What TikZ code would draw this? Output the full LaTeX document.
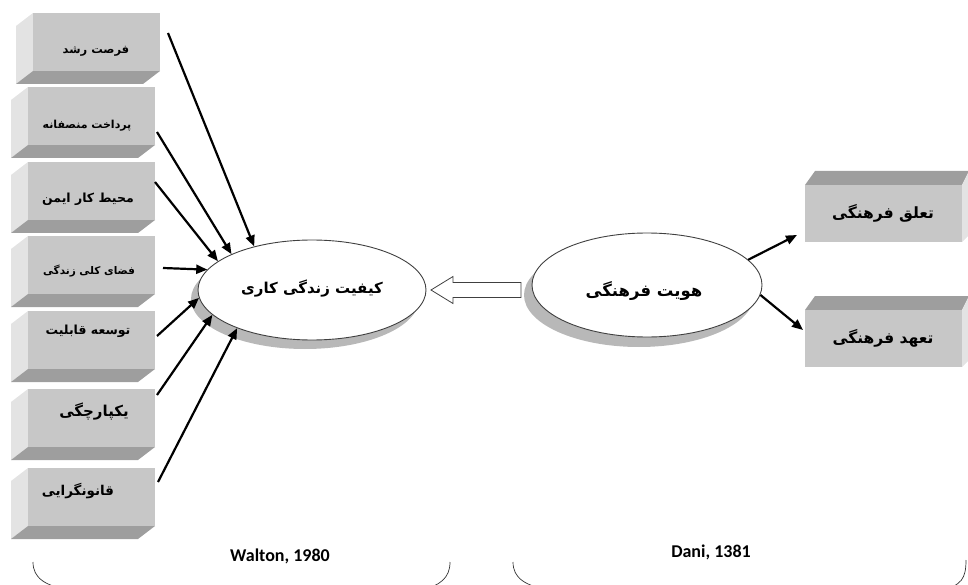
\documentclass[tikz,border=0pt]{standalone}
\usepackage{fontspec}
\setsansfont{Carlito}
\newfontfamily\farsi[Script=Arabic]{DejaVu Sans}
\TeXXeTstate=1
\usetikzlibrary{arrows.meta,shapes.geometric,calc}
\definecolor{frontgray}{gray}{0.78}
\definecolor{sidegray}{gray}{0.89}
\definecolor{botgray}{gray}{0.62}
\definecolor{shadowgray}{gray}{0.72}
\definecolor{ellgray}{gray}{0.25}
\tikzset{
  front/.style={fill=frontgray, draw=none, minimum width=127pt, minimum height=58pt, inner sep=0pt, anchor=north west},
  rfront/.style={fill=frontgray, draw=none, minimum width=157pt, minimum height=57pt, inner sep=0pt, anchor=north west},
  lbl/.style={font=\farsi\bfseries\fontsize{#1}{#1}\selectfont, inner sep=0pt},
  ell/.style={ellipse, draw=ellgray, line width=0.9pt, fill=white, minimum width=228pt, minimum height=100pt, inner sep=0pt},
  conn/.style={line width=2.2pt, -{Triangle[length=11pt,width=9pt]}},
  brack/.style={line width=0.7pt, draw=black!80},
  cite/.style={font=\sffamily\bfseries\fontsize{18}{18}\selectfont, inner sep=0pt}
}
% left box: name, x, y, text, size, text x, text y
\newcommand\lbox[7]{%
  \fill[sidegray] (#2,#3) -- (#2-17,#3+13) -- (#2-17,#3+71) -- (#2,#3+58) -- cycle;
  \fill[botgray] (#2,#3+58) -- (#2+127,#3+58) -- (#2+110,#3+71) -- (#2-17,#3+71) -- cycle;
  \node[front] (#1) at (#2,#3) {};
  \node[lbl=#5] (#1t) at (#6,#7) {#4};
}
% right box: name, y, text
\newcommand\rbox[3]{%
  \fill[botgray] (805,#2) -- (962,#2) -- (969,#2-14) -- (815,#2-14) -- cycle;
  \fill[sidegray] (962,#2) -- (969,#2-14) -- (969,#2+50) -- (962,#2+57) -- cycle;
  \node[rfront] (#1) at (805,#2) {};
  \node[lbl=15.5] (#1t) at (883,#2+28) {#3};
}
\begin{document}
\begin{tikzpicture}[x=1pt,y=-1pt]
\useasboundingbox (0,0) rectangle (968,585);
\clip (0,0) rectangle (968,585);
\lbox{b1}{33}{13}{\beginR فرصت رشد\endR}{11.5}{96}{51}
\lbox{b2}{28}{87}{\beginR پرداخت منصفانه\endR}{11}{87}{126}
\lbox{b3}{28}{162}{\beginR محیط کار ایمن\endR}{12.5}{88}{199}
\lbox{b4}{28}{236}{\beginR فضای کلی زندگی\endR}{10.5}{89}{271}
\lbox{b5}{28}{311}{\beginR توسعه قابلیت\endR}{12.5}{88}{331}
\lbox{b6}{28}{389}{\beginR یکپارچگی\endR}{15}{94}{412}
\lbox{b7}{28}{468}{\beginR قانونگرایی\endR}{13.5}{78}{491}
\rbox{t1}{185}{\beginR تعلق فرهنگی\endR}
\rbox{t2}{310}{\beginR تعهد فرهنگی\endR}
% ellipses
\fill[shadowgray] (305,299) ellipse [x radius=114pt, y radius=50pt];
\node[ell] (e1) at (312,290) {};
\node[lbl=15] (e1t) at (312,289) {\beginR کیفیت زندگی کاری\endR};
\fill[shadowgray] (639,295) ellipse [x radius=115pt, y radius=52pt];
\node[ell, minimum width=230pt, minimum height=104pt] (e2) at (647,285) {};
\node[lbl=16.5] (e2t) at (644,291) {\beginR هویت فرهنگی\endR};
% hollow arrow
\coordinate (hs) at (521,290);
\coordinate (ht) at (431,290);
\draw[ellgray, line width=0.8pt, fill=white] ($(hs)+(0,-7.5)$) -- ($(ht)+(22,-7.5)$) -- ($(ht)+(22,-13.5)$) -- (ht) -- ($(ht)+(22,13.5)$) -- ($(ht)+(22,7.5)$) -- ($(hs)+(0,7.5)$) -- cycle;
% left connectors
\coordinate (s1) at (168,33);
\coordinate (s2) at (157,132);
\coordinate (s3) at (155,182);
\coordinate (s4) at (163,268);
\coordinate (s5) at (157,336);
\coordinate (s6) at (157,395);
\coordinate (s7) at (158,482);
\draw[conn] (s1) -- (e1.143);
\draw[conn] (s2) -- (e1.156);
\draw[conn] (s3) -- (e1.163);
\draw[conn] (s4) -- (e1.169);
\draw[conn] (s5) -- (e1.184);
\draw[conn] (s6) -- (e1.194);
\draw[conn] (s7) -- (e1.207);
% right connectors
\coordinate (r1) at (797,235);
\coordinate (r2) at (803,330);
\draw[conn] (e2.14) -- (r1);
\draw[conn] (e2.355) -- (r2);
% brackets
\draw[brack] (33,562) .. controls (33,578) and (45,586) .. (70,590) -- (420,590) .. controls (440,586) and (450,578) .. (450,562);
\draw[brack] (513,562) .. controls (513,578) and (525,586) .. (550,590) -- (940,590) .. controls (962,586) and (966,578) .. (966,560);
\node[cite] (w) at (280,556) {Walton, 1980};
\node[cite] (d) at (711,552) {Dani, 1381};
\end{tikzpicture}
\end{document}
